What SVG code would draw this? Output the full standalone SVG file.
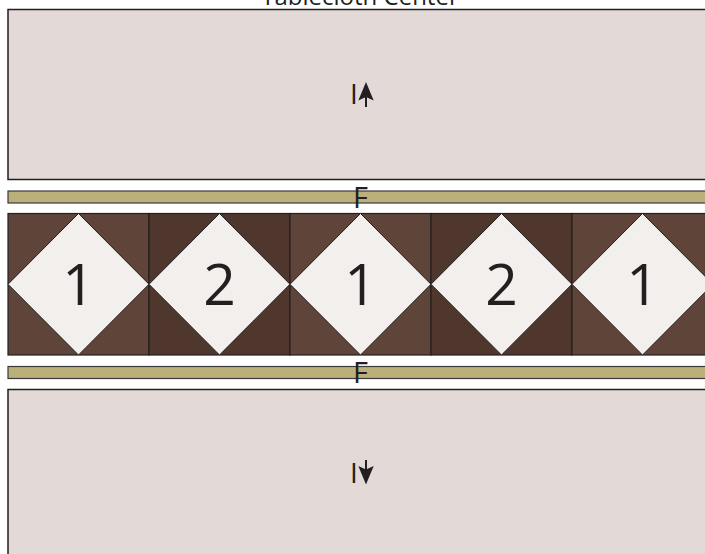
<svg xmlns="http://www.w3.org/2000/svg" width="705" height="554" viewBox="0 0 705 554">
<style>
.panel{fill:#e3d9d7;stroke:#231f20;stroke-width:1.5}
.strip{fill:#bcb07a;stroke:#3a3a3a;stroke-width:1.2}
.sqA{fill:#5f4539;stroke:#231f20;stroke-width:1.2}
.sqB{fill:#50372e;stroke:#231f20;stroke-width:1.2}
.dia{fill:#f2efec;stroke:#231f20;stroke-width:1}
.lbl{font-family:"Open Sans","Noto Sans",sans-serif;fill:#231f20;text-anchor:middle}
.num{font-size:57px}
.ink{fill:#231f20}
</style>
<rect width="705" height="554" fill="#ffffff"/>
<text class="lbl" x="360" y="5" font-size="24">Tablecloth Center</text>
<g id="center-top">
<rect class="panel" x="8" y="9.5" width="720" height="170"/>
<text class="lbl" x="353.8" y="104" font-size="28">I</text>
<rect class="ink" x="365" y="95" width="2" height="12"/>
<path class="ink" d="M366 82 L373.7 100.5 L366 97 L358.3 100.5 Z"/>
</g>
<g id="strip-top">
<rect class="strip" x="8" y="191" width="720" height="12"/>
<text class="lbl" x="360.5" y="207.5" font-size="29">F</text>
</g>
<g id="band">
<g id="block-1">
<rect class="sqA" x="8" y="213.5" width="141" height="141.5"/>
<path class="dia" d="M78.5 213.5 L149 284.25 L78.5 355 L8 284.25 Z"/>
<text class="lbl num" x="78.5" y="305">1</text>
</g>
<g id="block-2">
<rect class="sqB" x="149" y="213.5" width="141" height="141.5"/>
<path class="dia" d="M219.5 213.5 L290 284.25 L219.5 355 L149 284.25 Z"/>
<text class="lbl num" x="219.5" y="305">2</text>
</g>
<g id="block-3">
<rect class="sqA" x="290" y="213.5" width="141" height="141.5"/>
<path class="dia" d="M360.5 213.5 L431 284.25 L360.5 355 L290 284.25 Z"/>
<text class="lbl num" x="360.5" y="305">1</text>
</g>
<g id="block-4">
<rect class="sqB" x="431" y="213.5" width="141" height="141.5"/>
<path class="dia" d="M501.5 213.5 L572 284.25 L501.5 355 L431 284.25 Z"/>
<text class="lbl num" x="501.5" y="305">2</text>
</g>
<g id="block-5">
<rect class="sqA" x="572" y="213.5" width="141" height="141.5"/>
<path class="dia" d="M642.5 213.5 L713 284.25 L642.5 355 L572 284.25 Z"/>
<text class="lbl num" x="642.5" y="305">1</text>
</g>
</g>
<g id="strip-bottom">
<rect class="strip" x="8" y="366.5" width="720" height="12"/>
<text class="lbl" x="360.5" y="383" font-size="29">F</text>
</g>
<g id="center-bottom">
<rect class="panel" x="8" y="389.5" width="720" height="220"/>
<text class="lbl" x="353.8" y="483" font-size="28">I</text>
<rect class="ink" x="365" y="460" width="2" height="11"/>
<path class="ink" d="M366 484.5 L373.7 466 L366 469.5 L358.3 466 Z"/>
</g>
<g id="connectors"/>
</svg>
